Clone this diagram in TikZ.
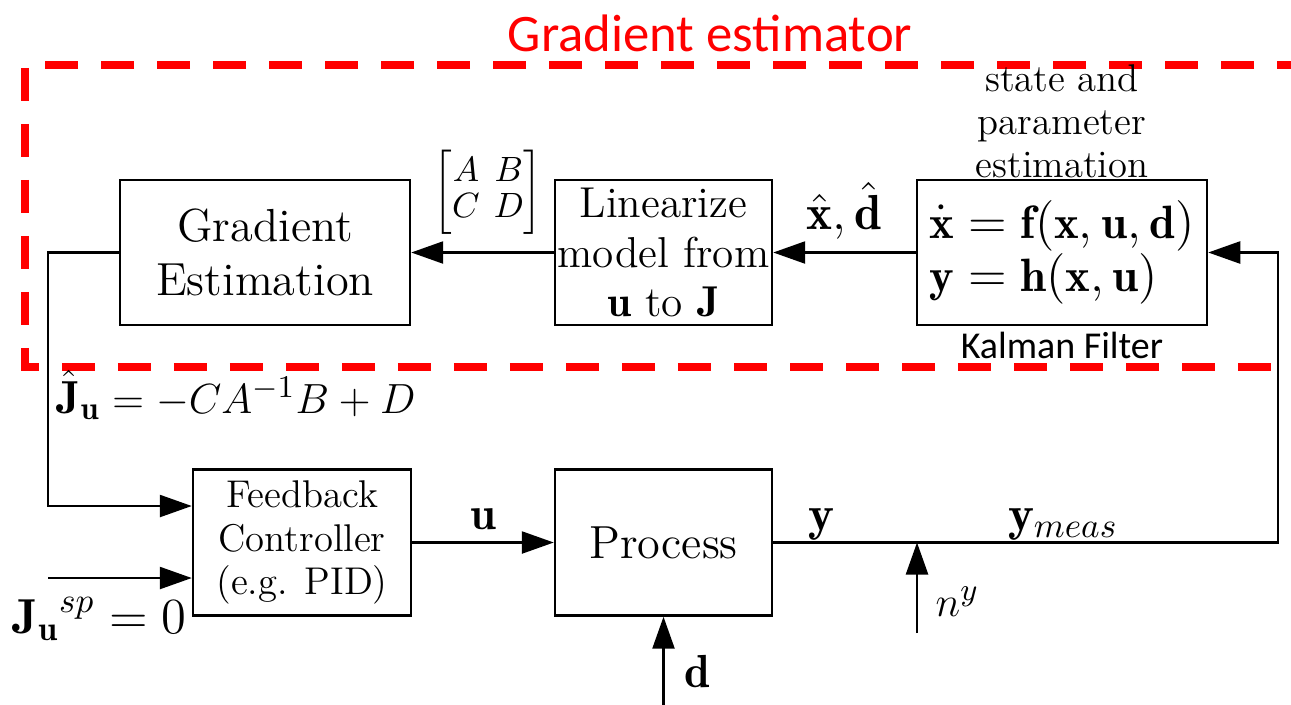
\documentclass[tikz,border=0pt]{standalone}
\usepackage{amsmath}
\usepackage{fontspec}
\newfontfamily\calibri{Carlito}
\usetikzlibrary{arrows.meta,positioning}

\begin{document}
\begin{tikzpicture}[
  box/.style={draw, line width=0.7pt, minimum width=#1, minimum height=1.45cm,
              align=center, inner sep=0pt},
  line/.style={-{Triangle[length=0.32cm,width=0.22cm]}, line width=0.7pt},
  big/.style={font=\fontsize{13.2}{15.5}\selectfont},
  mid/.style={font=\fontsize{12.3}{14}\selectfont},
  small/.style={font=\fontsize{11}{12.3}\selectfont},
  lab/.style={font=\fontsize{14}{16}\selectfont},
  gest/.style={red, line width=2pt, dash pattern=on 0.33cm off 0.23cm}
]
\useasboundingbox (0,0) rectangle (12.91,-7.04);
% gradient estimator frame
\draw[gest] (13.1,-0.65) -- (0.25,-0.65) -- (0.25,-3.67) -- (13.1,-3.67);
\node[red, font=\calibri\fontsize{15}{18}\selectfont] (title) at (7.10,-0.33) {Gradient estimator};

% upper blocks
\node[box=2.9cm, big]  (grad) at (2.65,-2.525)  {Gradient\\Estimation};
\node[box=2.17cm, mid] (lin)  at (6.635,-2.525) {Linearize\\model from\\$\mathbf{u}$ to $\mathbf{J}$};
\node[box=2.9cm, align=left, font=\fontsize{13.3}{15.1}\selectfont] (kf) at (10.62,-2.525)
  {$\dot{\mathbf{x}}=\mathbf{f}(\mathbf{x},\mathbf{u},\mathbf{d})$\\$\mathbf{y}=\mathbf{h}(\mathbf{x},\mathbf{u})$};
\node[small, align=center, inner sep=0pt, above=0cm of kf] (est) {state and\\parameter\\estimation};
\node[font=\calibri\fontsize{10.8}{12}\selectfont, inner sep=0pt, below=0.05cm of kf] (kal) {Kalman Filter};
\node[font=\fontsize{10}{12}\selectfont] (abcd) at (4.88,-1.92)
  {$\setlength\arraycolsep{2pt}\renewcommand\arraystretch{0.85}\begin{bmatrix}A&B\\C&D\end{bmatrix}$};

% lower blocks
\node[box=2.18cm, small, minimum height=1.46cm] (fb) at (3.02,-5.425) {Feedback\\Controller\\(e.g. PID)};
\node[box=2.17cm, big, minimum height=1.46cm] (proc) at (6.635,-5.425) {Process};

% labels
\node[big, inner sep=0pt, anchor=base west] (jhat) at (0.56,-4.13) {$\hat{\mathbf{J}}_{\mathbf{u}}=-CA^{-1}B+D$};
\node[lab, inner sep=0pt, anchor=base west] (jsp) at (0.12,-6.33) {${\mathbf{J}_{\mathbf{u}}}^{sp}=0$};
\node[lab, inner sep=0pt, anchor=base] (y) at (8.21,-5.30) {$\mathbf{y}$};
\node[lab, inner sep=0pt, anchor=base] (ymeas) at (10.63,-5.30) {$\mathbf{y}_{meas}$};
\node[big, inner sep=0pt, anchor=base west] (ny) at (9.35,-6.16) {$n^y$};
\node[big, inner sep=0pt, anchor=base west] (d) at (6.84,-6.87) {$\mathbf{d}$};

% corners and free ends
\coordinate (gl) at (0.48,-2.525);
\coordinate (bl) at (0.48,-5.06);
\coordinate (sp) at (0.48,-5.78);
\coordinate (meas) at (12.78,-5.425);
\coordinate (fbk) at (12.78,-2.525);
\coordinate (noise) at (9.17,-6.33);
\coordinate (dist) at (6.635,-7.10);

% connectors
\draw[line] (lin) -- (grad);
\draw[line] (kf) -- node[lab, above] {$\hat{\mathbf{x}},\hat{\mathbf{d}}$} (lin);
\draw[line] (proc.east) -- (meas) -- (fbk) -- (kf.east);
\draw[line] (grad.west) -- (gl) -- (bl) -- (bl -| fb.west);
\draw[line] (sp) -- (sp -| fb.west);
\draw[line] (fb) -- node[big, above] {$\mathbf{u}$} (proc);
\draw[line] (dist) -- (proc.south);
\draw[line] (noise) -- (noise |- meas);
\end{tikzpicture}
\end{document}
